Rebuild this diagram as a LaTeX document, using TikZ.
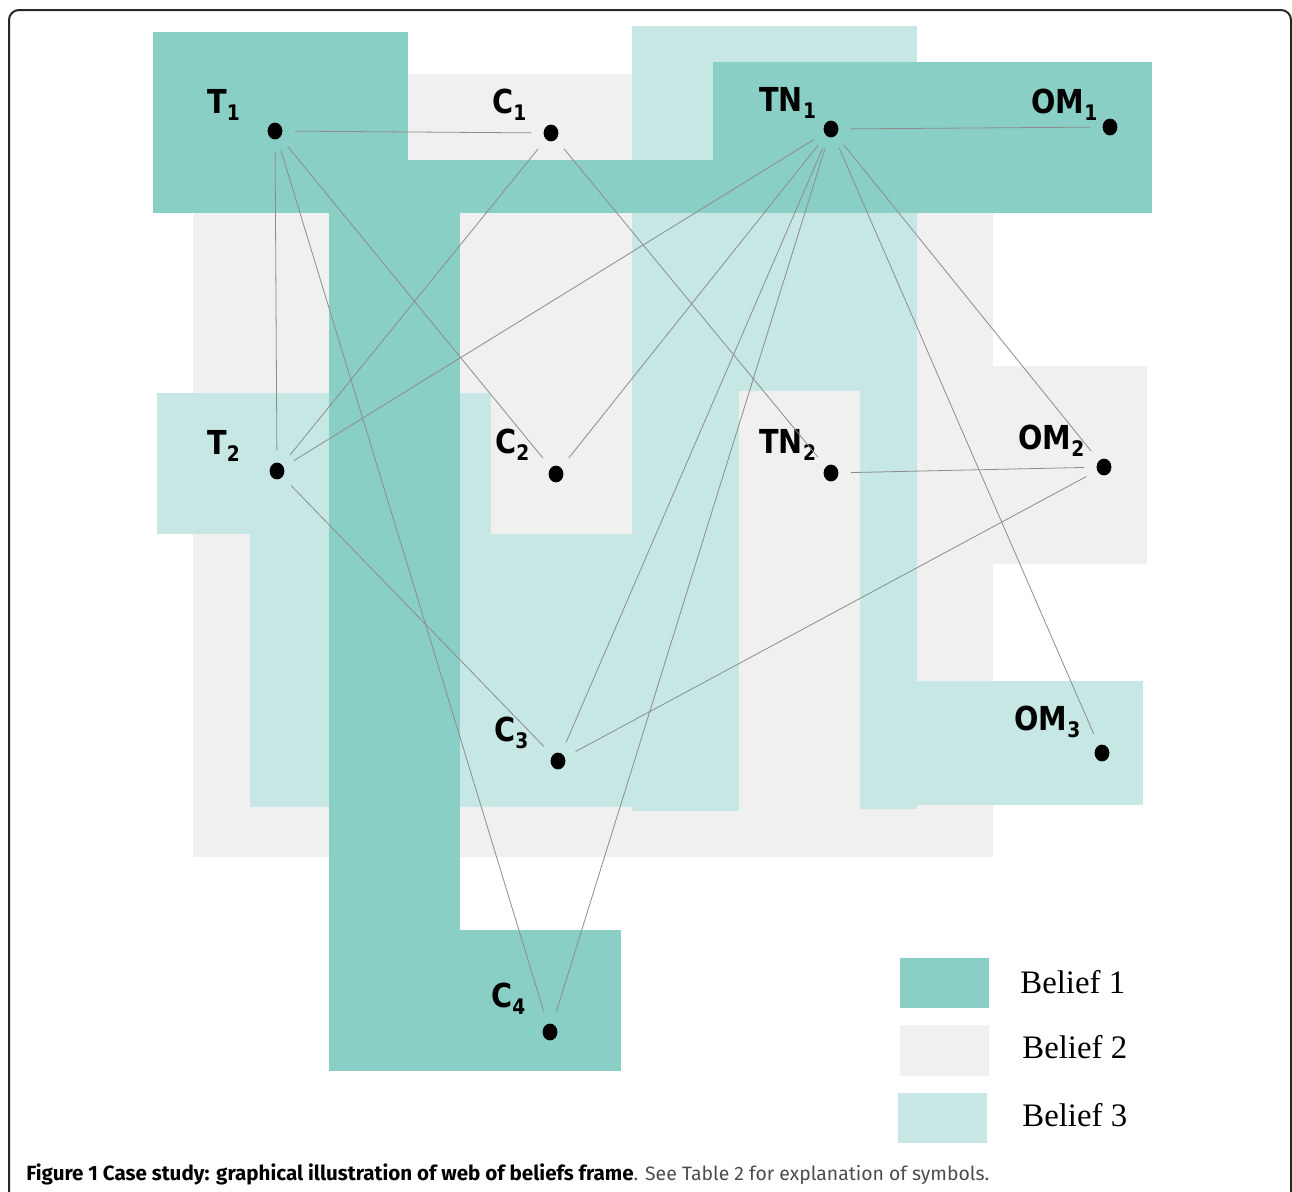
\documentclass[tikz,border=0pt]{standalone}
\usepackage{fontspec}
\setmainfont{Liberation Serif}
\newfontfamily\nodefont[FakeStretch=0.87]{DejaVu Sans}
\newfontfamily\capfont{Fira Sans}
\usetikzlibrary{shapes.geometric}

\definecolor{beliefone}{HTML}{8ACFC6}
\definecolor{belieftwo}{HTML}{F0F0F0}
\definecolor{beliefthree}{HTML}{C6E7E4}

\newcommand{\concept}[2]{#1\raisebox{-0.22em}{\fontsize{10.7pt}{10.7pt}\selectfont #2}}

\tikzset{
  dot/.style={ellipse, fill=black, inner sep=0pt, minimum width=7.4pt, minimum height=8.4pt},
  lab/.style={anchor=base west, inner sep=0pt,
    font=\nodefont\bfseries\fontsize{16.5pt}{16.5pt}\selectfont},
  link/.style={draw=black!45, line width=0.4pt, shorten <=6pt, shorten >=6pt},
  legend/.style={anchor=base west, inner sep=0pt, font=\fontsize{16.4pt}{16.4pt}\selectfont},
  caption/.style={anchor=base west, inner sep=0pt, font=\capfont}
}

\begin{document}
\begin{tikzpicture}[x=0.5pt, y=-0.5pt]
  \useasboundingbox (0,0) rectangle (1292,1191);
  \draw[line width=1pt, black!85, rounded corners=5pt]
    (9,1215) -- (9,10) -- (1291,10) -- (1291,1215);

  % belief 2
  \fill[belieftwo] (408,74) rectangle (634,213);
  \fill[belieftwo] (193,213) rectangle (993,857);
  \fill[belieftwo] (993,366) rectangle (1147,564);
  % belief 3
  \fill[beliefthree] (632,26) rectangle (917,391);
  \fill[beliefthree] (632,391) rectangle (739,811);
  \fill[beliefthree] (860,391) rectangle (917,809);
  \fill[beliefthree] (917,681) rectangle (1143,805);
  \fill[beliefthree] (157,393) rectangle (491,534);
  \fill[beliefthree] (250,534) rectangle (632,807);
  % belief 1
  \fill[beliefone] (153,32) rectangle (408,213);
  \fill[beliefone] (408,160) rectangle (713,213);
  \fill[beliefone] (713,62) rectangle (1152,213);
  \fill[beliefone] (329,213) rectangle (460,1071);
  \fill[beliefone] (460,930) rectangle (621,1071);

  % concepts
  \node[dot] (t1) at (275,131) {};
  \node[dot] (c1) at (551,133) {};
  \node[dot] (tn1) at (831,129) {};
  \node[dot] (om1) at (1110,127) {};
  \node[dot] (t2) at (277,471) {};
  \node[dot] (c2) at (556,474) {};
  \node[dot] (tn2) at (831,473) {};
  \node[dot] (om2) at (1104,467) {};
  \node[dot] (c3) at (558,761) {};
  \node[dot] (om3) at (1102,753) {};
  \node[dot] (c4) at (550,1032) {};

  \node[lab] (t1lab) at (207,113) {\concept{T}{1}};
  \node[lab] (c1lab) at (492,113) {\concept{C}{1}};
  \node[lab] (tn1lab) at (759,111) {\concept{TN}{1}};
  \node[lab] (om1lab) at (1031,113) {\concept{OM}{1}};
  \node[lab] (t2lab) at (207,454) {\concept{T}{2}};
  \node[lab] (c2lab) at (495,453) {\concept{C}{2}};
  \node[lab] (tn2lab) at (759,453) {\concept{TN}{2}};
  \node[lab] (om2lab) at (1018,449) {\concept{OM}{2}};
  \node[lab] (c3lab) at (494,741) {\concept{C}{3}};
  \node[lab] (om3lab) at (1014,730) {\concept{OM}{3}};
  \node[lab] (c4lab) at (491,1007) {\concept{C}{4}};

  \foreach \a/\b in {t1/c1, t1/t2, t1/c2, t1/c4, c1/t2, c1/tn2, tn1/om1, tn1/t2,
    tn1/c2, tn1/c3, tn1/c4, tn1/om2, tn1/om3, tn2/om2, om2/c3, t2/c3}
    \draw[link] (\a) -- (\b);

  % legend
  \fill[beliefone] (900,958) rectangle (989,1008);
  \fill[belieftwo] (900,1025) rectangle (989,1076);
  \fill[beliefthree] (898,1093) rectangle (987,1143);
  \node[legend] (leg1) at (1020,993) {Belief 1};
  \node[legend] (leg2) at (1022,1058) {Belief 2};
  \node[legend] (leg3) at (1022,1126) {Belief 3};

  \node[caption] (cap) at (26,1180) {\fontsize{10.3pt}{10.3pt}\selectfont\textbf{Figure 1 Case study: graphical illustration of web of beliefs frame}\fontsize{9.7pt}{9.7pt}\selectfont\textcolor{black!70}{. See Table 2 for explanation of symbols.}};
\end{tikzpicture}
\end{document}
